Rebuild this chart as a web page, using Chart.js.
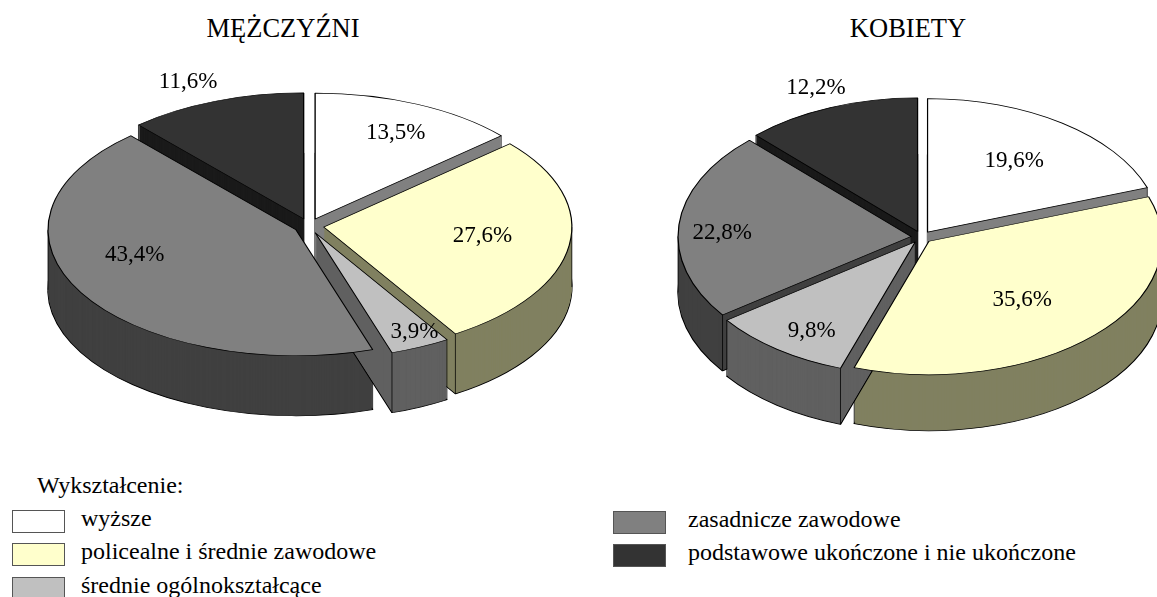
<!DOCTYPE html>
<html lang="pl">
<head>
<meta charset="utf-8">
<title>Wykształcenie</title>
<script src="https://cdn.jsdelivr.net/npm/chart.js@4/dist/chart.umd.min.js"></script>
<style>
  html, body { margin: 0; padding: 0; background: #fff; overflow: hidden; }
  body { position: relative; width: 1157px; height: 597px; font-family: "Liberation Serif", serif; color: #000; }
  canvas { position: absolute; top: 0; }
  .title, .note, .legendText { position: absolute; white-space: nowrap; }
  .title { top: 13px; font-size: 26.5px; line-height: 30px; transform: translateX(-50%); }
  .note { left: 37px; top: 470px; font-size: 24px; line-height: 30px; }
  .swatch { position: absolute; width: 53px; height: 23px; border: 1px solid #555; box-sizing: border-box; }
  .legendText { font-size: 24px; line-height: 24px; }
</style>
</head>
<body>
<div class="title" style="left:283px">MĘŻCZYŹNI</div>
<div class="title" style="left:908px">KOBIETY</div>
<div class="note">Wykształcenie:</div>
<canvas id="menChart" width="618" height="452" style="left:0"></canvas>
<canvas id="womenChart" width="521" height="474" style="left:661px"></canvas>
<div id="legend"></div>
<script>
const categories = [
  'wyższe',
  'policealne i średnie zawodowe',
  'średnie ogólnokształcące',
  'zasadnicze zawodowe',
  'podstawowe ukończone i nie ukończone',
];
const menValues = [13.5, 27.6, 3.9, 43.4, 11.6];
const womenValues = [19.6, 35.6, 9.8, 22.8, 12.2];
const topColors = ['#ffffff', '#ffffcc', '#c0c0c0', '#808080', '#333333'];
const sideColors = ['#808080', '#808060', '#606060', '#404040', '#1a1a1a'];

// label places, as fractions of the radius measured from each slice's tip
const menLabelPlaces = [[0.325, -0.70], [0.64, 0.055], [0.40, 0.77], [-0.65, 0.18], [-0.466, -1.10]];
const womenLabelPlaces = [[0.372, -0.545], [0.40, 0.425], [-0.444, 0.65], [-0.81, -0.04], [-0.436, -1.09]];

function drawArcWith(arc, ctx, fill, stroke, width) {
  const saved = arc.options;
  arc.options = {
    backgroundColor: fill,
    borderColor: stroke,
    borderWidth: width,
    borderAlign: 'center',
    borderJoinStyle: 'round',
    borderRadius: 0,
    offset: 0,
    spacing: 0,
    circular: true,
  };
  arc.draw(ctx);
  arc.options = saved;
}

function midAngle(arc) {
  return (arc.startAngle + arc.endAngle) / 2;
}

function angleInside(angle, arc) {
  return [angle, angle + Math.PI * 2].some(v => v >= arc.startAngle && v <= arc.endAngle);
}

function drawSides(arc, ctx, color, depth, squash) {
  ctx.save();
  ctx.translate(0, depth / squash);
  drawArcWith(arc, ctx, color, '#000', 1.4);
  ctx.restore();
  for (let d = depth - 1; d >= 1; d -= 1) {
    ctx.save();
    ctx.translate(0, d / squash);
    drawArcWith(arc, ctx, color, color, 0);
    ctx.restore();
  }

  // corners of the slice and the outer silhouette
  const r = arc.outerRadius;
  const edges = [arc.startAngle, arc.endAngle];
  [0, Math.PI].forEach((angle) => {
    if (angleInside(angle, arc)) edges.push(angle);
  });
  ctx.strokeStyle = '#000';
  ctx.lineWidth = 1;
  edges.forEach((angle) => {
    const x = arc.x + Math.cos(angle) * r;
    const y = arc.y + Math.sin(angle) * r;
    ctx.beginPath();
    ctx.moveTo(x, y);
    ctx.lineTo(x, y + depth / squash);
    ctx.stroke();
  });
}

const pie3d = {
  id: 'pie3d',
  beforeDatasetDraw(chart, args, opts) {
    const { ctx } = chart;
    const arcs = chart.getDatasetMeta(0).data;
    const cy = arcs[0].y;
    const place = (arc, draw) => {
      const mid = midAngle(arc);
      ctx.save();
      ctx.translate(Math.cos(mid) * opts.explode, Math.sin(mid) * opts.explode);
      draw();
      ctx.restore();
    };

    ctx.save();
    ctx.translate(0, cy * (1 - opts.squash));
    ctx.scale(1, opts.squash);

    // back slices first so the nearer sides cover them
    const backToFront = arcs.map((arc, i) => i)
      .sort((a, b) => Math.sin(midAngle(arcs[a])) - Math.sin(midAngle(arcs[b])));
    backToFront.forEach((i) => {
      place(arcs[i], () => drawSides(arcs[i], ctx, sideColors[i], opts.depth, opts.squash));
    });
    arcs.forEach((arc, i) => {
      place(arc, () => drawArcWith(arc, ctx, topColors[i], '#000', 1.2));
    });
    ctx.restore();

    ctx.fillStyle = '#000';
    ctx.font = '23px "Liberation Serif"';
    ctx.textAlign = 'center';
    ctx.textBaseline = 'middle';
    arcs.forEach((arc, i) => {
      const mid = midAngle(arc);
      const tipX = arc.x + Math.cos(mid) * opts.explode;
      const tipY = cy + Math.sin(mid) * opts.explode * opts.squash;
      const [fx, fy] = opts.labelPlaces[i];
      const text = `${opts.values[i].toFixed(1).replace('.', ',')}%`;
      ctx.fillText(text, tipX + fx * arc.outerRadius, tipY + fy * arc.outerRadius * opts.squash + 2);
    });
    return false;
  },
};

function createPie(canvasId, values, labelPlaces, radius, squash, explode, depth) {
  return new Chart(document.getElementById(canvasId), {
    type: 'pie',
    plugins: [pie3d],
    data: {
      labels: categories,
      datasets: [{ data: values, backgroundColor: topColors, borderColor: '#000', borderWidth: 1 }],
    },
    options: {
      responsive: false,
      animation: false,
      radius,
      layout: { padding: 0 },
      plugins: {
        legend: { display: false },
        tooltip: { enabled: false },
        pie3d: { values, labelPlaces, squash, explode, depth },
      },
    },
  });
}

createPie('menChart', menValues, menLabelPlaces, 248, 0.508, 15, 60);
createPie('womenChart', womenValues, womenLabelPlaces, 233, 0.573, 10.5, 56);

function addLegendRow(index, swatchLeft, textLeft, top) {
  const legend = document.getElementById('legend');
  const swatch = document.createElement('div');
  swatch.className = 'swatch';
  swatch.style.left = `${swatchLeft}px`;
  swatch.style.top = `${top}px`;
  swatch.style.background = topColors[index];
  const text = document.createElement('div');
  text.className = 'legendText';
  text.style.left = `${textLeft}px`;
  text.style.top = `${top - 4}px`;
  text.textContent = categories[index];
  legend.appendChild(swatch);
  legend.appendChild(text);
}

addLegendRow(0, 12, 81, 510);
addLegendRow(1, 12, 81, 543);
addLegendRow(2, 12, 81, 577);
addLegendRow(3, 613, 688, 511);
addLegendRow(4, 613, 688, 544);
</script>
</body>
</html>
